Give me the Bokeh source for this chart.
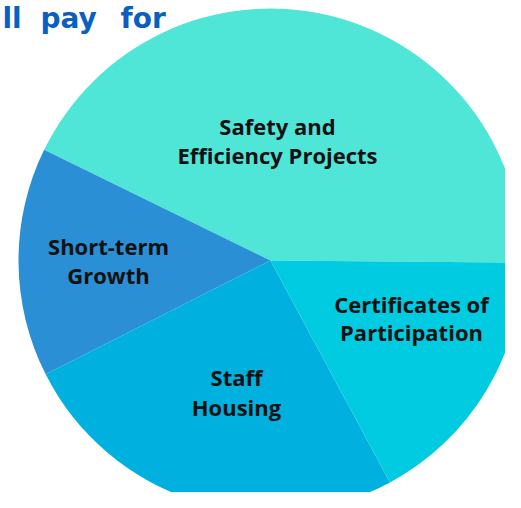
import math
from bokeh.plotting import figure
from bokeh.models import Range1d, ColumnDataSource
from bokeh.core.properties import value
from bokeh.embed import file_html
from bokeh.resources import INLINE

# ---- data ----
categories = ["Safety and Efficiency Projects", "Short-term Growth", "Staff Housing", "Certificates of Participation"]
shares = [42.9, 14.7, 25.4, 17.0]
label_lines = [["Safety and", "Efficiency Projects"], ["Short-term", "Growth"], ["Staff", "Housing"], ["Certificates of", "Participation"]]
colors = ["#4FE6D8", "#2A8FD5", "#00B0DE", "#00CBE0"]
title_words = ["ll", "pay", "for"]

# ---- layout (screen px from top-left of the picture) ----
W, H = 505, 492
cx_s, cy_s, R = 270, 260, 252
start_deg = -0.5
label_pos = [(277, 134, 163), (108, 254, 283), (236, 385, 415), (411, 312, 340)]
base_shift = -9  # compensate renderer baseline offset
title_x = [2, 40, 120]
title_base = 27


def dy(screen_y):
    return H - (screen_y + base_shift)


p = figure(width=W, height=H, output_backend="svg", toolbar_location=None,
           x_range=Range1d(0, W), y_range=Range1d(0, H),
           min_border=0, outline_line_color=None, background_fill_color="white")
p.axis.visible = False
p.grid.visible = False

total = sum(shares)
starts, ends = [], []
a = math.radians(start_deg)
for s in shares:
    starts.append(a)
    a += s / total * 2 * math.pi
    ends.append(a)

src = ColumnDataSource(dict(cat=categories, share=shares, start=starts, end=ends, color=colors,
                            x=[cx_s] * len(shares), y=[H - cy_s] * len(shares)))
p.wedge(x="x", y="y", radius=R, start_angle="start", end_angle="end",
        fill_color="color", line_color=None, source=src)

xs, ys, ts = [], [], []
for (lx, b1, b2), lines in zip(label_pos, label_lines):
    xs += [lx, lx]
    ys += [dy(b1), dy(b2)]
    ts += lines
p.text(x=xs, y=ys, text=ts, text_align="center", text_baseline="alphabetic",
       text_font=value("Open Sans"), text_font_style="bold", text_font_size="22px",
       text_color="#111111")

p.text(x=title_x, y=[dy(title_base)] * len(title_words), text=title_words,
       text_align="left", text_baseline="alphabetic",
       text_font=value("DejaVu Sans"), text_font_style="bold", text_font_size="28px",
       text_color="#0A5FBF")

open("out.html", "w").write(file_html(p, INLINE))
